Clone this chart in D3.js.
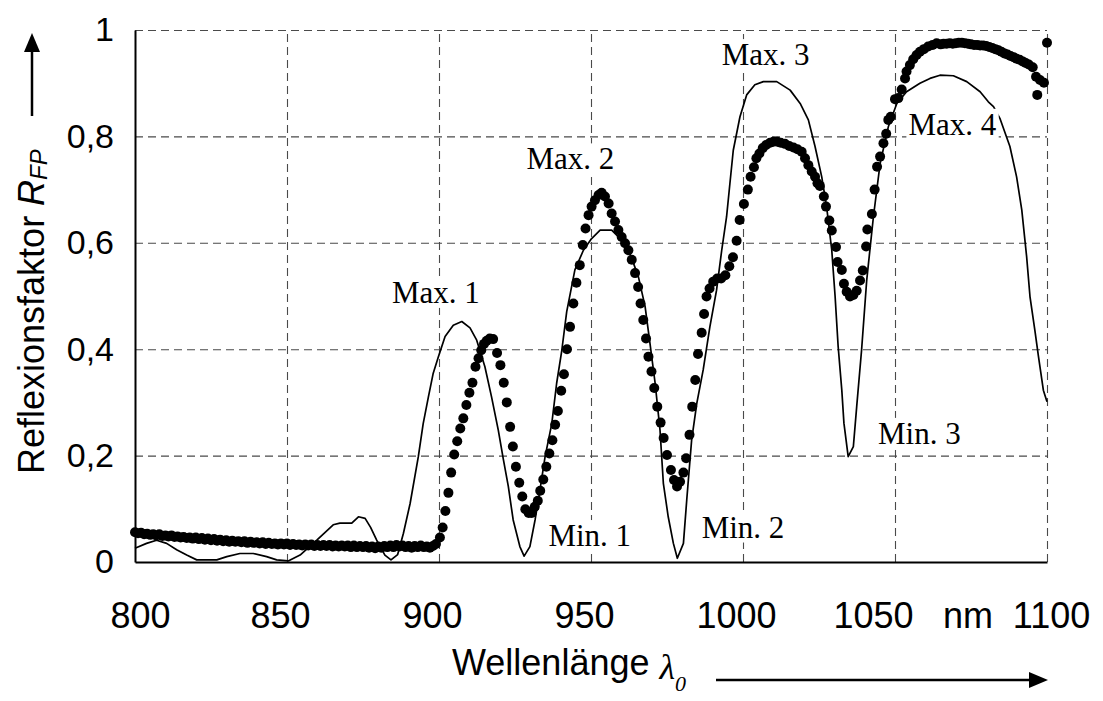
<!DOCTYPE html>
<html lang="de">
<head>
    <meta charset="UTF-8">
    <title>Reflexionsfaktor R_FP</title>
    <script src="https://cdnjs.cloudflare.com/ajax/libs/d3/7.8.5/d3.min.js"></script>
    <style>
        html, body { margin: 0; padding: 0; background: #fff; }
        svg { display: block; }
    </style>
</head>
<body>
    <div id="wrapper"></div>
    <script>
        // Achsen
        const xTicks = [800, 850, 900, 950, 1000, 1050, 1100]
        const yTicks = [0, 0.2, 0.4, 0.6, 0.8, 1]
        const xGrid = [850, 900, 950, 1000, 1050, 1100]
        const yGrid = [0.2, 0.4, 0.6, 0.8, 1]

        // Simulation (durchgezogene Linie)
        const simWl = [
            800, 803.8, 807.1, 810.4, 813.7, 817, 820.3, 826.9, 830.2, 834.5,
            838.9, 843.3, 846.6, 850.4, 854.3, 859.8, 865.2, 867.4, 871.3, 873.5,
            875.7, 877.5, 879.5, 882.2, 884.2, 886.4, 888.3, 890.5, 893.2, 894.8,
            896.5, 898.1, 899.8, 902, 904.7, 907.5, 910.2, 912.4, 915.1, 917.3,
            919.5, 921.2, 922.8, 924.4, 926.6, 928, 929.9, 931.6, 933.2, 934.9,
            937.1, 938.7, 940.4, 942, 944.7, 947.5, 950.2, 953, 956.8, 960.1,
            962.8, 965.6, 967.8, 969.4, 971.1, 972.7, 973.8, 975.4, 977.1, 978.4,
            980.4, 981.5, 983.1, 984.8, 986.9, 989.1, 991.3, 993, 994.6, 995.7,
            996.8, 999, 1001.2, 1003.9, 1006.7, 1011.1, 1015.5, 1018.8, 1021.5, 1023.7,
            1025.9, 1027.5, 1029.2, 1030.3, 1031.3, 1032.5, 1033.2, 1034.6, 1036.3, 1037.4,
            1039, 1040.7, 1042.9, 1045.1, 1047.8, 1050.6, 1053.8, 1058.2, 1061.5, 1064.8,
            1069.2, 1073.6, 1078, 1080.7, 1082.4, 1084.5, 1087.8, 1090, 1091.7, 1093.3,
            1094.4, 1096, 1097.2, 1098.8, 1100
        ]
        const simR = [
            .026, .035, .041, .035, .023, .013, .004, .004, .010, .016,
            .016, .010, .004, .002, .013, .041, .070, .073, .073, .085,
            .082, .065, .041, .013, .004, .014, .054, .110, .198, .260,
            .310, .355, .386, .424, .445, .452, .440, .417, .367, .310,
            .248, .192, .142, .079, .029, .011, .029, .079, .135, .198,
            .260, .336, .398, .470, .549, .586, .608, .624, .624, .605,
            .580, .536, .480, .411, .336, .248, .148, .085, .035, .007,
            .035, .117, .229, .298, .361, .442, .511, .586, .649, .712,
            .774, .837, .878, .897, .903, .903, .887, .862, .831, .781,
            .724, .668, .586, .499, .405, .323, .261, .198, .217, .292,
            .398, .530, .649, .749, .818, .862, .884, .900, .909, .915,
            .914, .903, .884, .865, .856, .834, .781, .724, .662, .574,
            .499, .436, .386, .323, .301
        ]

        // Messung (Punkte)
        const measWl = [
            800, 801, 802, 803, 804, 805, 806, 807, 808, 809,
            810, 811, 812, 813, 814, 815, 816, 817, 818, 819,
            820, 821, 822, 823, 824, 825, 826, 827, 828, 829,
            830, 831, 832, 833, 834, 835, 836, 837, 838, 839,
            840, 841, 842, 843, 844, 845, 846, 847, 848, 849,
            850, 851, 852, 853, 854, 855, 856, 857, 858, 859,
            860, 861, 862, 863, 864, 865, 866, 867, 868, 869,
            870, 871, 872, 873, 874, 875, 876, 877, 878, 879,
            880, 881, 882, 883, 884, 885, 886, 887, 888, 889,
            890, 891, 892, 893, 894, 895, 896, 897, 898, 899,
            900.3, 901.2, 902.1, 903.1, 904.0, 905.0, 906.0, 907.0, 908.0, 909.0,
            910.0, 911.0, 912.0, 913.0, 913.9, 914.8, 915.7, 916.7, 917.8, 919.1,
            920.2, 921.3, 922.3, 923.4, 924.3, 925.3, 926.4, 927.4, 928.4, 929.5,
            930.5, 931.5, 932.5, 933.3, 934.3, 935.3, 936.3, 937.3, 938.2, 939.1,
            940.2, 941.1, 942.1, 943.1, 944.2, 945.2, 946.3, 947.3, 948.2, 949.2,
            950.2, 951.3, 952.5, 953.5, 954.6, 955.8, 956.8, 957.9, 959.0, 960.1,
            961.2, 962.3, 963.4, 964.5, 965.5, 966.3, 967.2, 968.1, 968.9, 969.9,
            970.8, 971.8, 972.9, 973.9, 975.0, 976.3, 977.3, 978.3, 979.3, 980.4,
            981.3, 982.4, 983.3, 984.3, 985.2, 986.4, 987.2, 988.0, 989.0, 990.2,
            991.5, 992.8, 994.2, 995.5, 996.7, 997.9, 998.9, 1000.3, 1001.6, 1002.5,
            1003.6, 1004.4, 1005.4, 1006.5, 1007.6, 1008.9, 1010.0, 1011.3, 1012.4, 1013.8,
            1015.2, 1016.6, 1017.9, 1019.3, 1020.4, 1021.5, 1022.6, 1023.7, 1024.5, 1025.3,
            1026.6, 1027.3, 1028.4, 1029.2, 1030.6, 1031.1, 1032.5, 1033.2, 1034.1, 1035.2,
            1036.3, 1037.4, 1038.5, 1039.4, 1040.5, 1040.9, 1042.4, 1043.3, 1044.1, 1045.1,
            1046.2, 1047.1, 1047.8, 1048.6, 1050.0, 1051.1, 1052.2, 1053.3, 1053.8, 1054.9,
            1056.0, 1057.1, 1058.2, 1059.5, 1060.9, 1062.4, 1063.7, 1065, 1066, 1067,
            1068, 1069, 1070, 1071, 1072, 1073, 1074, 1075, 1076, 1077,
            1078, 1079, 1080, 1081, 1082, 1083, 1084, 1085, 1086, 1087,
            1088, 1089, 1090, 1091, 1092, 1093, 1094, 1095.3, 1096.4, 1096.8,
            1097.7, 1099, 1100
        ]
        const measR = [
            .056, .054, .055, .052, .053, .051, .052, .050, .052, .049,
            .050, .048, .050, .047, .048, .046, .047, .045, .046, .044,
            .046, .043, .045, .042, .044, .041, .043, .040, .042, .039,
            .041, .038, .040, .038, .039, .037, .039, .036, .038, .036,
            .037, .035, .037, .034, .036, .034, .035, .033, .035, .033,
            .035, .032, .034, .032, .033, .031, .033, .031, .033, .030,
            .032, .030, .032, .030, .032, .029, .031, .029, .031, .029,
            .031, .028, .031, .028, .030, .028, .030, .027, .029, .026,
            .029, .027, .030, .028, .031, .028, .032, .029, .031, .028,
            .030, .027, .030, .028, .031, .028, .029, .027, .030, .034,
            .046, .065, .096, .130, .168, .202, .227, .251, .270, .295,
            .318, .337, .367, .383, .398, .410, .416, .420, .419, .393,
            .370, .337, .300, .254, .217, .179, .149, .123, .099, .092,
            .092, .104, .115, .134, .155, .179, .204, .229, .258, .284,
            .322, .353, .400, .442, .486, .525, .558, .596, .627, .652,
            .668, .680, .690, .694, .687, .674, .655, .640, .624, .611,
            .599, .586, .568, .543, .517, .486, .455, .420, .386, .358,
            .327, .292, .262, .233, .201, .173, .154, .142, .151, .168,
            .195, .239, .292, .342, .391, .431, .466, .499, .514, .527,
            .533, .533, .539, .556, .573, .604, .643, .673, .700, .724,
            .742, .759, .768, .778, .784, .788, .790, .790, .788, .786,
            .782, .779, .776, .771, .759, .746, .734, .724, .712, .707,
            .687, .668, .642, .623, .592, .564, .549, .523, .508, .499,
            .502, .510, .529, .548, .593, .625, .654, .700, .743, .762,
            .787, .805, .831, .837, .870, .872, .888, .909, .922, .934,
            .945, .953, .959, .964, .969, .972, .975, .973, .974, .974,
            .975, .974, .975, .976, .976, .975, .974, .973, .972, .972,
            .971, .971, .970, .968, .966, .964, .962, .959, .956, .954,
            .951, .949, .946, .944, .941, .938, .935, .930, .912, .878,
            .906, .901, .976
        ]

        // Beschriftung der Extrema (Textanfang, Grundlinie in Datenkoordinaten)
        const annoText = ['Max. 1', 'Max. 2', 'Max. 3', 'Max. 4', 'Min. 1', 'Min. 2', 'Min. 3']
        const annoWl = [884.5, 928.8, 993.0, 1054.4, 936.0, 986.4, 1044.4]
        const annoR = [0.487, 0.738, 0.934, 0.803, 0.030, 0.046, 0.222]

        function drawChart() {
            const dimensions = {
                width: 1103,
                height: 701,
                margin: { top: 30, right: 56, bottom: 139, left: 135 }
            }
            dimensions.boundedWidth = dimensions.width - dimensions.margin.left - dimensions.margin.right
            dimensions.boundedHeight = dimensions.height - dimensions.margin.top - dimensions.margin.bottom

            const sans = "'Liberation Sans', Arial, sans-serif"
            const serif = "'Liberation Serif', 'Times New Roman', serif"

            const svg = d3.select('#wrapper')
                .append('svg')
                    .attr('width', dimensions.width)
                    .attr('height', dimensions.height)
                    .attr('viewBox', `0 0 ${dimensions.width} ${dimensions.height}`)

            const bounds = svg.append('g')
                .attr('transform', `translate(${dimensions.margin.left},${dimensions.margin.top})`)

            const xScale = d3.scaleLinear()
                .domain([800, 1100])
                .range([0, dimensions.boundedWidth])
            const yScale = d3.scaleLinear()
                .domain([0, 1])
                .range([dimensions.boundedHeight, 0])

            // Gitter
            const gridX = bounds.append('g')
                .attr('transform', `translate(0,${dimensions.boundedHeight})`)
                .call(d3.axisBottom(xScale).tickValues(xGrid).tickSize(-dimensions.boundedHeight).tickFormat(''))
            const gridY = bounds.append('g')
                .call(d3.axisLeft(yScale).tickValues(yGrid).tickSize(-dimensions.boundedWidth).tickFormat(''))
            for (const g of [gridX, gridY]) {
                g.select('.domain').remove()
                g.selectAll('line')
                    .attr('stroke', '#4a4a4a')
                    .attr('stroke-width', 1.1)
                    .attr('stroke-dasharray', '8,5')
            }

            // Simulation
            const lineGenerator = d3.line()
                .x((d, i) => xScale(simWl[i]))
                .y(d => yScale(d))
            bounds.append('path')
                .attr('d', lineGenerator(simR))
                .attr('fill', 'none')
                .attr('stroke', '#000')
                .attr('stroke-width', 1.7)
                .attr('stroke-linejoin', 'round')

            // Messung
            bounds.append('g')
                .selectAll('circle')
                .data(measR)
                .join('circle')
                    .attr('cx', (d, i) => xScale(measWl[i]))
                    .attr('cy', d => yScale(d))
                    .attr('r', 5)
                    .attr('fill', '#000')

            // Achsenlinien (links, unten)
            const xAxis = bounds.append('g')
                .attr('transform', `translate(0,${dimensions.boundedHeight})`)
                .call(d3.axisBottom(xScale).tickValues(xTicks).tickSize(0).tickFormat(d => d))
            xAxis.select('.domain').attr('stroke', '#000').attr('stroke-width', 2)
            const xNudge = { 800: 5, 1050: -22, 1100: 4 }
            xAxis.selectAll('text')
                .attr('y', 66)
                .attr('dy', 0)
                .attr('dx', d => (d in xNudge ? xNudge[d] : -7))
                .attr('fill', '#000')
                .style('font-family', sans)
                .style('font-size', '36px')
            xAxis.append('text')
                .attr('x', xScale(1075) - 3)
                .attr('y', 66)
                .attr('text-anchor', 'middle')
                .attr('fill', '#000')
                .style('font-family', sans)
                .style('font-size', '36px')
                .text('nm')

            const yAxis = bounds.append('g')
                .call(d3.axisLeft(yScale).tickValues(yTicks).tickSize(0).tickPadding(21)
                    .tickFormat(d => String(d).replace('.', ',')))
            yAxis.select('.domain').attr('stroke', '#000').attr('stroke-width', 2)
            yAxis.selectAll('text')
                .attr('fill', '#000')
                .style('font-family', sans)
                .style('font-size', '34px')

            // Beschriftungen mit weißem Hintergrund
            const annos = bounds.append('g')
                .selectAll('g')
                .data(annoText)
                .join('g')
            annos.append('rect').attr('fill', '#fff')
            annos.append('text')
                .attr('x', (d, i) => xScale(annoWl[i]))
                .attr('y', (d, i) => yScale(annoR[i]))
                .attr('fill', '#000')
                .style('font-family', serif)
                .style('font-size', '31px')
                .text(d => d)
            annos.each(function () {
                const g = d3.select(this)
                const bb = g.select('text').node().getBBox()
                g.select('rect')
                    .attr('x', bb.x - 2)
                    .attr('y', bb.y + 2)
                    .attr('width', bb.width + 4)
                    .attr('height', bb.height - 4)
            })

            // y-Achsentitel mit Pfeil
            const yTitle = svg.append('text')
                .attr('transform', 'translate(44,474) rotate(-90)')
                .attr('fill', '#000')
                .style('font-family', sans)
                .style('font-size', '36px')
            yTitle.append('tspan').text('Reflexionsfaktor ')
            yTitle.append('tspan').style('font-style', 'italic').text('R')
            yTitle.append('tspan')
                .style('font-style', 'italic')
                .style('font-size', '24px')
                .attr('dy', 3)
                .text('FP')

            const arrowY = svg.append('g').attr('fill', '#000').attr('stroke', '#000')
            arrowY.append('line')
                .attr('x1', 32).attr('x2', 32)
                .attr('y1', 116).attr('y2', 48)
                .attr('stroke-width', 2.5)
            arrowY.append('path')
                .attr('d', 'M32,33 L24,52 L40,52 Z')
                .attr('stroke', 'none')

            // x-Achsentitel mit Pfeil
            const xTitle = svg.append('text')
                .attr('x', 452)
                .attr('y', 675)
                .attr('fill', '#000')
                .style('font-family', sans)
                .style('font-size', '36px')
            xTitle.append('tspan').text('Wellenlänge ')
            xTitle.append('tspan')
                .style('font-family', serif)
                .style('font-style', 'italic')
                .attr('dy', 4)
                .text('λ')
            xTitle.append('tspan')
                .style('font-family', serif)
                .style('font-style', 'italic')
                .style('font-size', '22px')
                .attr('dy', 12)
                .text('0')

            const arrowX = svg.append('g').attr('fill', '#000').attr('stroke', '#000')
            arrowX.append('line')
                .attr('x1', 716).attr('x2', 1032)
                .attr('y1', 680).attr('y2', 680)
                .attr('stroke-width', 2.5)
            arrowX.append('path')
                .attr('d', 'M1048,680 L1029,672 L1029,688 Z')
                .attr('stroke', 'none')
        }

        drawChart()
    </script>
</body>
</html>
